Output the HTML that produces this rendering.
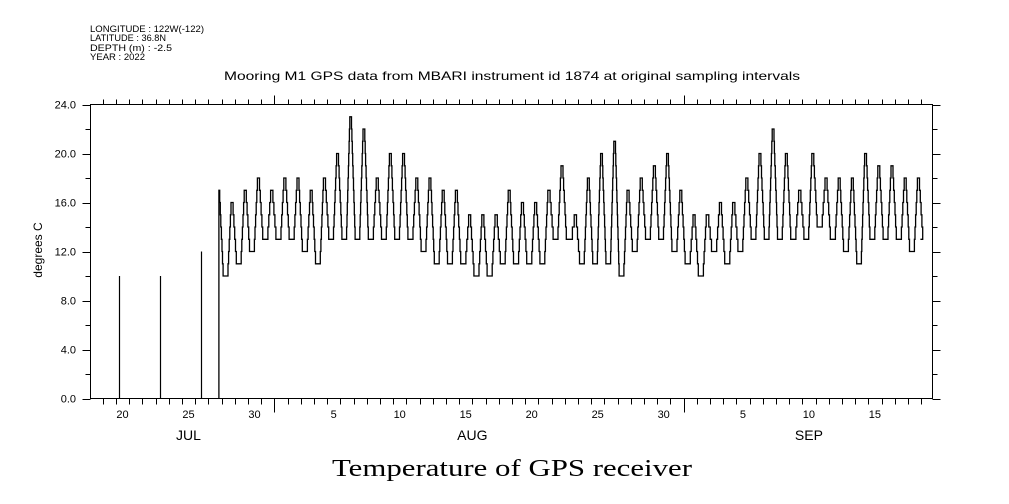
<!DOCTYPE html>
<html><head><meta charset="utf-8"><style>
body{margin:0;background:#fff;}
svg{display:block;font-family:"Liberation Sans",sans-serif;}
</style></head><body>
<svg id="chart" width="1009" height="504" viewBox="0 0 1009 504">
<g font-size="9" fill="#000">
<text x="90" y="32" textLength="114" lengthAdjust="spacingAndGlyphs">LONGITUDE : 122W(-122)</text>
<text x="90" y="41" textLength="76" lengthAdjust="spacingAndGlyphs">LATITUDE : 36.8N</text>
<text x="90" y="51" textLength="82" lengthAdjust="spacingAndGlyphs">DEPTH (m) : -2.5</text>
<text x="90" y="60" textLength="55" lengthAdjust="spacingAndGlyphs">YEAR : 2022</text>
</g>
<text x="224" y="80" font-size="12" textLength="576" lengthAdjust="spacingAndGlyphs">Mooring M1 GPS data from MBARI instrument id 1874 at original sampling intervals</text>
<text transform="translate(42,250) rotate(-90)" font-size="12" text-anchor="middle">degrees C</text>
<text x="332" y="476" font-size="24" textLength="360" lengthAdjust="spacingAndGlyphs" font-family="Liberation Serif, serif">Temperature of GPS receiver</text>
<g id="axes"></g>
<g id="series"></g>
</svg>
<script>
// days since Jul 1 00:00 (Jul 18 = 17)
const dayIndex = [26,27,28,29,30,31,32,33,34,35,36,37,38,39,40,41,42,43,44,45,46,47,48,49,50,51,52,53,54,55,56,57,58,59,60,61,62,63,64,65,66,67,68,69,70,71,72,73,74,75,76,77,78,79];
const dayMax = [17,16,17,18,17,18,18,17,18,20,23,22,18,20,20,18,18,17,17,15,15,15,17,16,16,17,19,15,18,20,21,17,18,19,20,17,15,15,16,16,18,20,22,20,17,20,18,18,18,20,19,19,18,18];
const dayMin = [10,11,12,13,13,13,12,11,13,13,13,13,13,13,13,12,11,11,11,10,10,11,11,11,11,13,13,11,11,11,10,12,13,13,12,11,10,12,11,12,13,13,13,13,13,14,13,12,11,13,13,13,12,13];
const spikeDay = [19.23,22.34,25.45];
const spikeVal = [10,10,12];
const yTicks = ["0.0","4.0","8.0","12.0","16.0","20.0","24.0"];
const dayLabels = [[19,"20"],[24,"25"],[29,"30"],[35,"5"],[40,"10"],[45,"15"],[50,"20"],[55,"25"],[60,"30"],[66,"5"],[71,"10"],[76,"15"]];
const monthLabels = [[24.5,"JUL"],[46,"AUG"],[71.5,"SEP"]];

const NS="http://www.w3.org/2000/svg";
const L=90.5,R=932.5,T=104.5,B=398.5;
const xs=d=>274.3+(d-31)*13.2;
const ys=v=>B-v*(B-T)/24;
function mk(tag,attrs,parent){const e=document.createElementNS(NS,tag);for(const k in attrs)e.setAttribute(k,attrs[k]);parent.appendChild(e);return e;}
const ax=document.getElementById('axes');
const fr=mk('rect',{x:L,y:T,width:R-L,height:B-T,fill:'none',stroke:'#000','stroke-width':1},ax);


for(let v=0;v<=24;v+=2){
  const y=Math.round(ys(v))+0.5;
  const len=v%4===0?8:5;
  mk('line',{x1:L-len,y1:y,x2:L,y2:y,stroke:'#000'},ax);
  mk('line',{x1:R,y1:y,x2:R+len,y2:y,stroke:'#000'},ax);
}
yTicks.forEach((t,i)=>{
  const tx=mk('text',{x:76,y:ys(i*4)+4,'font-size':11,'text-anchor':'end'},ax);
  
  
  tx.textContent=t;
});
for(let d=18;d<=80;d++){
  const x=Math.round(xs(d))+0.5;
  if(x<L||x>R)continue;
  const big=(d===31||d===62);
  mk('line',{x1:x,y1:B,x2:x,y2:B+(big?14:6),stroke:'#000'},ax);
  mk('line',{x1:x,y1:T,x2:x,y2:T-(big?9:5),stroke:'#000'},ax);
}
dayLabels.forEach(([d,t])=>{
  const tx=mk('text',{x:xs(d+0.5),y:418,'font-size':11,'text-anchor':'middle'},ax);
  
  
  tx.textContent=t;
});
monthLabels.forEach(([d,t])=>{
  const tx=mk('text',{x:xs(d),y:440,'font-size':14,'text-anchor':'middle'},ax);
  
  
  tx.textContent=t;
});
const sg=document.getElementById('series');
spikeDay.forEach((d,i)=>{
  const ln=mk('line',{x1:Math.round(xs(d))+0.5,y1:B,x2:Math.round(xs(d))+0.5,y2:ys(spikeVal[i]),stroke:'#000','stroke-width':1.2},sg);
  
  
});
let pts=[];
function step(d,v){if(pts.length){pts.push([xs(d),pts[pts.length-1][1]]);}pts.push([xs(d),ys(v)]);}
const d0=dayIndex[0]+0.8;
pts.push([xs(d0),ys(0)]);
pts.push([xs(d0),ys(dayMax[0])]);
dayIndex.forEach((d,i)=>{
  const mx=dayMax[i],mn=dayMin[i];
  if(i>0){
    const fl=dayMin[i-1];
    const n=Math.max(1,mx-fl);
    for(let k=1;k<=n;k++)step(d+0.45+0.27*k/n,fl+(mx-fl)*k/n);
  }
  const n2=Math.max(1,mx-mn);
  for(let k=1;k<=n2;k++)step(d+0.82+0.3*k/n2,mx-(mx-mn)*k/n2);
});
step(79.95,dayMin[dayMin.length-1]);
const pl=mk('polyline',{points:pts.map(p=>p[0].toFixed(1)+','+p[1].toFixed(1)).join(' '),fill:'none',stroke:'#000','stroke-width':1.3},sg);


</script>
</body></html>
